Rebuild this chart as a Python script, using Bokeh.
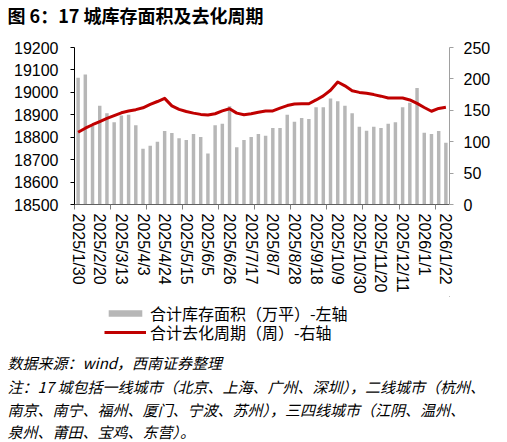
from bokeh.plotting import figure
from bokeh.models import (Range1d, LinearAxis, FixedTicker, SingleIntervalTicker,
                          Legend, LegendItem, Title, ColumnDataSource)
from bokeh.layouts import column
from bokeh.embed import file_html
from bokeh.resources import INLINE

# ---------------- data ----------------
dates = ["2025/1/30", "2025/2/6", "2025/2/13", "2025/2/20", "2025/2/27", "2025/3/6",
         "2025/3/13", "2025/3/20", "2025/3/27", "2025/4/3", "2025/4/10", "2025/4/17",
         "2025/4/24", "2025/5/1", "2025/5/8", "2025/5/15", "2025/5/22", "2025/5/29",
         "2025/6/5", "2025/6/12", "2025/6/19", "2025/6/26", "2025/7/3", "2025/7/10",
         "2025/7/17", "2025/7/24", "2025/7/31", "2025/8/7", "2025/8/14", "2025/8/21",
         "2025/8/28", "2025/9/4", "2025/9/11", "2025/9/18", "2025/9/25", "2025/10/2",
         "2025/10/9", "2025/10/16", "2025/10/23", "2025/10/30", "2025/11/6", "2025/11/13",
         "2025/11/20", "2025/11/27", "2025/12/4", "2025/12/11", "2025/12/18", "2025/12/25",
         "2026/1/1", "2026/1/8", "2026/1/15", "2026/1/22"]

inventory = [19065, 19080, 18850, 18940, 18907, 18867, 18897, 18900, 18853, 18749,
             18762, 18780, 18828, 18819, 18795, 18788, 18814, 18801, 18727, 18853,
             18860, 18938, 18755, 18788, 18801, 18814, 18807, 18841, 18841, 18900,
             18869, 18886, 18881, 18934, 18934, 18973, 18960, 18940, 18907, 18847,
             18829, 18847, 18841, 18860, 18867, 18934, 18954, 19019, 18820, 18814,
             18828, 18775]

cycle = [115, 121.5, 127, 132, 137, 141.5, 146, 149, 151, 154,
         159.5, 164, 169, 157, 151.5, 148, 145.5, 143.5, 142.5, 144.5,
         149, 152.5, 145.5, 143, 144.5, 147, 149, 149, 153.5, 157.5,
         160, 160.5, 160.5, 166.5, 173, 182, 195, 189, 181, 178.5,
         177, 175, 172.5, 169.5, 169.5, 169.5, 166.5, 161, 154.5, 148.5,
         153, 155]

title_text = "图 6：17 城库存面积及去化周期"
legend_bar = "合计库存面积（万平）-左轴"
legend_line = "合计去化周期（周）-右轴"
source_text = "数据来源：wind，西南证券整理"
note_lines = ["注：17 城包括一线城市（北京、上海、广州、深圳），二线城市（杭州、",
              "南京、南宁、福州、厦门、宁波、苏州），三四线城市（江阴、温州、",
              "泉州、莆田、宝鸡、东营）。"]

# ---------------- style ----------------
W = 507
BL, BR = 74, 58          # left / right borders of the plot frame
LAT = "Liberation Sans"
CJK = "Noto Sans CJK SC"
TAN = "#C9A66B"
BAR = "#B7B7B7"
RED = "#C00000"


def blank(height, **kw):
    f = figure(width=W, height=height, x_axis_type=None, y_axis_type=None,
               toolbar_location=None, output_backend="svg", outline_line_color=None,
               min_border_left=BL, min_border_right=BR, **kw)
    f.grid.visible = False
    return f


def rule():
    # a 2px strip painted entirely in the rule colour (frame + borders)
    f = figure(width=W, height=2, title=None, x_axis_type=None, y_axis_type=None,
               toolbar_location=None, output_backend="svg", outline_line_color=None,
               min_border=0, min_border_left=BL, min_border_right=BR,
               min_border_top=0, min_border_bottom=0,
               background_fill_color=TAN, border_fill_color=TAN)
    f.grid.visible = False
    return f


def text_strip(height, top_border, text, size, style):
    f = blank(height, min_border_top=top_border, min_border_bottom=0)
    f.add_layout(Title(text=text, align="left", offset=-67, standoff=0,
                       vertical_align="middle", text_font=CJK, text_font_style=style,
                       text_font_size=size, text_color="#000000"), "above")
    return f


# ---------------- title strip ----------------
top = text_strip(31, 26, title_text, "18px", "bold")

# ---------------- main chart ----------------
n = len(dates)
xs = [i + 0.5 for i in range(n)]
src = ColumnDataSource(dict(x=xs, inv=inventory, cyc=cycle))

p = figure(width=W, height=263, x_range=Range1d(0, n), y_range=Range1d(18500, 19200),
           toolbar_location=None, output_backend="svg",
           min_border_left=BL, min_border_right=BR, min_border_top=14, min_border_bottom=90,
           outline_line_color=None)
p.extra_y_ranges = {"right": Range1d(0, 250)}
p.xgrid.visible = False
p.ygrid.visible = False

p.vbar(x="x", top="inv", bottom=18500, width=0.48, source=src,
       fill_color=BAR, line_color=None)
p.line(x="x", y="cyc", y_range_name="right", source=src,
       line_color=RED, line_width=3, line_join="round")

# left axis
ya = p.yaxis[0]
ya.ticker = SingleIntervalTicker(interval=100, num_minor_ticks=0)
ya.axis_line_color = "#000000"
ya.major_tick_line_color = "#000000"
ya.major_tick_out = 4
ya.major_tick_in = 0
ya.minor_tick_line_color = None
ya.major_label_standoff = 12
ya.major_label_text_font = LAT
ya.major_label_text_font_size = "16px"
ya.major_label_text_color = "#000000"

# right axis
ra = LinearAxis(y_range_name="right", ticker=SingleIntervalTicker(interval=50, num_minor_ticks=0))
ra.axis_line_color = "#A0A0A0"
ra.major_tick_line_color = "#A0A0A0"
ra.major_tick_out = 4
ra.major_tick_in = 0
ra.minor_tick_line_color = None
ra.major_label_standoff = 10
ra.major_label_text_font = LAT
ra.major_label_text_font_size = "16px"
ra.major_label_text_color = "#000000"
p.add_layout(ra, "right")

# bottom axis
lab_idx = list(range(0, n, 3))
xa = p.xaxis[0]
xa.ticker = FixedTicker(ticks=[xs[i] for i in lab_idx], minor_ticks=list(range(0, n, 5)))
xa.major_label_overrides = {xs[i]: dates[i] for i in lab_idx}
xa.major_label_orientation = "vertical"
xa.axis_line_color = "#606060"
xa.major_tick_out = 0
xa.major_tick_in = 0
xa.minor_tick_out = 5
xa.minor_tick_in = 0
xa.minor_tick_line_color = "#808080"
xa.major_label_standoff = 4
xa.major_label_text_font = LAT
xa.major_label_text_font_size = "16px"
xa.major_label_text_color = "#000000"

# ---------------- legend strip ----------------
# same series, drawn in a strip whose ranges lie outside the data: only the legend shows
leg = blank(48, min_border_top=0, min_border_bottom=0,
            x_range=Range1d(-3, -2), y_range=Range1d(0, 1))
leg.extra_y_ranges = {"right": Range1d(0, 250)}
lb = leg.vbar(x="x", top="inv", bottom=18500, width=0.48, source=src,
              fill_color=BAR, line_color=None)
ll = leg.line(x="x", y="cyc", y_range_name="right", source=src,
              line_color=RED, line_width=3)
leg_style = dict(orientation="vertical", glyph_width=42, glyph_height=8, label_height=18,
                 label_standoff=4, padding=0, margin=0,
                 border_line_color=None, background_fill_alpha=0,
                 label_text_font=CJK, label_text_font_size="16px",
                 label_text_color="#000000")
leg.add_layout(Legend(items=[LegendItem(label=legend_bar, renderers=[lb])],
                      location=(30, 19), **leg_style), "center")
leg.add_layout(Legend(items=[LegendItem(label=legend_line, renderers=[ll])],
                      location=(30, 0), **leg_style), "center")

# ---------------- source / notes strips ----------------
s0 = text_strip(28, 27, source_text, "15px", "italic")
s1 = text_strip(23, 22, note_lines[0], "15px", "italic")
s2 = text_strip(23, 21, note_lines[1], "15px", "italic")
s3 = text_strip(22, 21, note_lines[2], "15px", "italic")

page = column(top, rule(), p, leg, rule(), s0, s1, s2, s3, spacing=0)
open("out.html", "w").write(file_html(page, INLINE))
